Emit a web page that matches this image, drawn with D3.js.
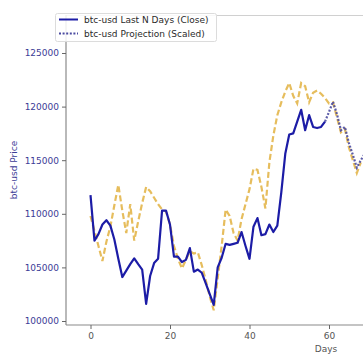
<!DOCTYPE html>
<html><head><meta charset="utf-8">
<script src="https://cdn.jsdelivr.net/npm/d3@7"></script>
<style>body{margin:0;background:#fff;}svg{display:block;font-family:"DejaVu Sans",sans-serif;}</style>
</head><body><svg id="c" width="363" height="361"></svg>
<script>
const closeDays = d3.range(0, 60);
const closeValues = [111750,107500,108100,109000,109400,108900,107600,105800,104100,104700,
  105300,105850,105300,104800,101600,104200,105400,105800,110300,110300,
  109000,106000,106000,105500,105700,106800,104600,104800,104500,103500,
  102500,101500,105000,105900,107200,107100,107200,107300,108300,107000,
  105800,108800,109600,108000,108100,109000,108300,108900,112000,115600,
  117400,117500,118600,119700,117800,119200,118100,118000,118100,118600];
const patternDays = d3.range(0, 69);
const patternValues = [109800,108400,107000,105600,107400,108800,110800,112700,110300,108200,
  110900,107500,109300,111000,112500,112100,111500,110900,110400,110200,
  109000,107000,105800,104900,105700,106500,106300,106400,105200,103800,
  102300,101000,104000,107000,110400,109800,108200,107500,109500,110900,
  112300,114200,114100,112500,110500,114800,117300,119200,120400,121400,
  122200,121000,120300,122200,121900,120400,121300,121500,121200,120800,
  120300,120400,119000,117600,117900,116200,115000,113800,114800];
const projDays = d3.range(59, 70);
const projValues = [118600,119500,120460,119300,117800,118100,116600,115500,114300,115000,115600];
const xTicks = [0, 20, 40, 60];
const yTicks = [100000, 105000, 110000, 115000, 120000, 125000];
const seriesLabels = ["btc-usd Last N Days (Close)", "btc-usd Projection (Scaled)"];

(function () {
const svg = d3.select("#c");
const pL = 66, pR = 586, pT = 15, pB = 325;
const x = d3.scaleLinear().domain([0, 60]).range([90.5, 329]);
const y = d3.scaleLinear().domain([100000, 125000]).range([321, 53]);

// spines
svg.append("line").attr("x1", pL).attr("x2", pR).attr("y1", pT + 0.5).attr("y2", pT + 0.5).attr("stroke", "#d0d0d0").attr("stroke-width", 1);
svg.append("line").attr("x1", pL).attr("x2", pR).attr("y1", pB).attr("y2", pB).attr("stroke", "#8a8a8a").attr("stroke-width", 1.2);
svg.append("line").attr("x1", pL).attr("x2", pL).attr("y1", pT).attr("y2", pB).attr("stroke", "#8a8a8a").attr("stroke-width", 1.2);

// axes
const yAxis = svg.append("g").attr("transform", `translate(${pL},0)`)
  .call(d3.axisLeft(y).tickValues(yTicks).tickFormat(d3.format("d")).tickSize(4).tickPadding(3));
yAxis.select(".domain").remove();
yAxis.selectAll("line").attr("stroke", "#666");
yAxis.selectAll("text").attr("fill", "#3c3c96").attr("font-size", 9).attr("font-family", "DejaVu Sans");

const xAxis = svg.append("g").attr("transform", `translate(0,${pB})`)
  .call(d3.axisBottom(x).tickValues(xTicks).tickSize(4).tickPadding(4));
xAxis.select(".domain").remove();
xAxis.selectAll("line").attr("stroke", "#666");
xAxis.selectAll("text").attr("fill", "#555").attr("font-size", 9).attr("font-family", "DejaVu Sans");

// labels
svg.append("text").attr("x", (pL + pR) / 2).attr("y", 352).attr("text-anchor", "middle")
  .attr("font-size", 9).attr("fill", "#555").text("Days");
svg.append("text").attr("transform", `translate(17,${(pT + pB) / 2}) rotate(-90)`).attr("text-anchor", "middle")
  .attr("font-size", 9).attr("fill", "#3c3c96").text("btc-usd Price");

const line = d3.line().x(d => x(d[0])).y(d => y(d[1]));
const g = svg.append("g");
g.append("path").datum(patternDays.map((d, i) => [d, patternValues[i]])).attr("d", line)
  .attr("fill", "none").attr("stroke", "#e0ad35").attr("stroke-opacity", 0.8).attr("stroke-width", 2.2)
  .attr("stroke-dasharray", "6,3");
g.append("path").datum(closeDays.map((d, i) => [d, closeValues[i]])).attr("d", line)
  .attr("fill", "none").attr("stroke", "#1c1ca6").attr("stroke-width", 2.2).attr("stroke-linejoin", "round");
g.append("path").datum(projDays.map((d, i) => [d, projValues[i]])).attr("d", line)
  .attr("fill", "none").attr("stroke", "#4a4aa0").attr("stroke-opacity", 0.9).attr("stroke-width", 2.2)
  .attr("stroke-dasharray", "2,1.6");

// legend
const lg = svg.append("g");
lg.append("rect").attr("x", 55.5).attr("y", 13.5).attr("width", 161).attr("height", 28).attr("rx", 2)
  .attr("fill", "#fff").attr("fill-opacity", 0.85).attr("stroke", "#dcdcdc");
lg.append("line").attr("x1", 59).attr("x2", 78).attr("y1", 19.5).attr("y2", 19.5).attr("stroke", "#1c1ca6").attr("stroke-width", 2);
lg.append("line").attr("x1", 59).attr("x2", 78).attr("y1", 33.5).attr("y2", 33.5).attr("stroke", "#4a4aa0").attr("stroke-width", 2).attr("stroke-dasharray", "2,1.6");
seriesLabels.forEach((t, i) => {
  lg.append("text").attr("x", 84).attr("y", 22.5 + i * 14).attr("font-size", 9).attr("fill", "#2a2a2a").text(t);
});
})();
</script></body></html>
